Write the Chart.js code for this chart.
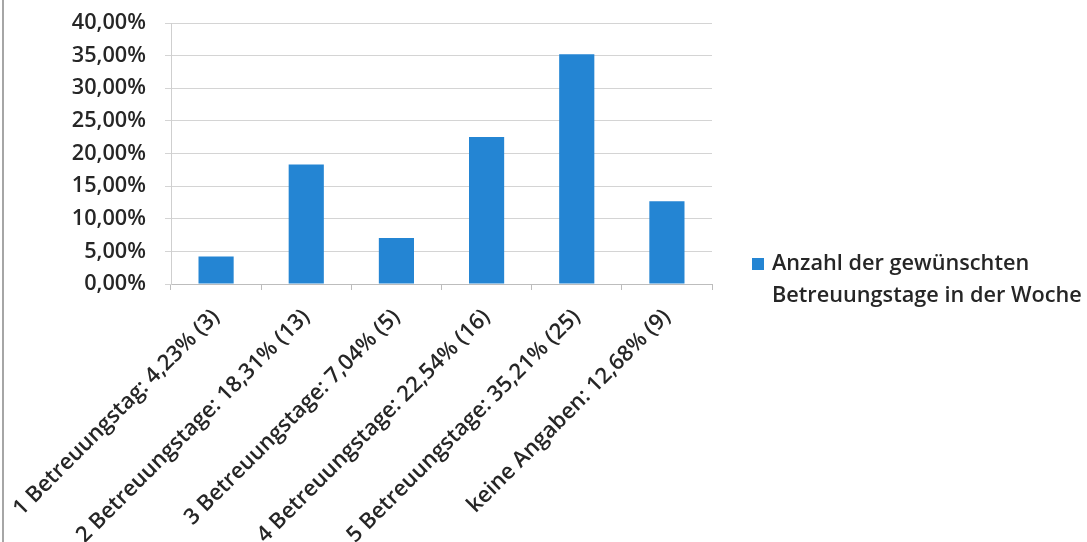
<!DOCTYPE html>
<html lang="de">
<head>
<meta charset="utf-8">
<title>Anzahl der gewünschten Betreuungstage in der Woche</title>
<script src="https://cdn.jsdelivr.net/npm/chart.js@4.4.1/dist/chart.umd.min.js"></script>
<style>
  html, body { margin: 0; padding: 0; background: #fff; }
  #wrap { position: relative; width: 1087px; height: 542px; overflow: hidden; }
  #edge { position: absolute; left: 2px; top: 0; width: 2px; height: 542px; background: #a6a6a6; }
  canvas { display: block; }
</style>
</head>
<body>
<div id="wrap">
  <canvas id="chart" width="1087" height="542"></canvas>
  <div id="edge"></div>
</div>
<script>
// Betreuungstage pro Woche: Anteil in Prozent
const categories = [
  '1 Betreuungstag: 4,23% (3)',
  '2 Betreuungstage: 18,31% (13)',
  '3 Betreuungstage: 7,04% (5)',
  '4 Betreuungstage: 22,54% (16)',
  '5 Betreuungstage: 35,21% (25)',
  'keine Angaben: 12,68% (9)'
];
const shares = [4.23, 18.31, 7.04, 22.54, 35.21, 12.68];
const seriesLabel = ['Anzahl der gewünschten', 'Betreuungstage in der Woche'];
const yTicks = [0, 5, 10, 15, 20, 25, 30, 35, 40];

const FONT = '"Open Sans", "DejaVu Sans", sans-serif';
const TEXT = '#262626';
const BLUE = '#2485d3';

const fmtPct = v => v.toFixed(2).replace('.', ',') + '%';

// Legend drawn at the right of the plot, two-line label
const sideLegend = {
  id: 'sideLegend',
  afterDraw(chart) {
    const ctx = chart.ctx;
    const ds = chart.data.datasets[0];
    const x = chart.chartArea.right + 40;
    const y = 264;
    ctx.save();
    ctx.fillStyle = ds.backgroundColor;
    ctx.fillRect(x, y - 6, 12, 12);
    ctx.fillStyle = TEXT;
    ctx.font = '600 21.7px ' + FONT;
    ctx.textBaseline = 'middle';
    ctx.textAlign = 'left';
    ds.labelLines.forEach((line, i) => ctx.fillText(line, x + 20, y + i * 32));
    ctx.restore();
  }
};

new Chart(document.getElementById('chart'), {
  type: 'bar',
  data: {
    labels: categories,
    datasets: [{
      label: seriesLabel.join(' '),
      labelLines: seriesLabel,
      data: shares,
      backgroundColor: BLUE,
      borderWidth: 0,
      categoryPercentage: 1,
      barPercentage: 0.39
    }]
  },
  options: {
    responsive: false,
    animation: false,
    layout: { padding: { left: 10, top: 23, right: 375, bottom: 0 } },
    plugins: {
      legend: { display: false },
      tooltip: { enabled: false }
    },
    scales: {
      x: {
        grid: {
          offset: true,
          drawOnChartArea: false,
          drawTicks: true,
          tickLength: 6,
          color: '#bdbdbd'
        },
        border: { color: '#bdbdbd', width: 1 },
        ticks: {
          minRotation: 45,
          maxRotation: 45,
          autoSkip: false,
          padding: 14,
          color: TEXT,
          font: { family: FONT, size: 22, weight: '600' }
        },
        afterFit(scale) {
          scale.height = 258;
          scale.paddingLeft = 0;
          scale.paddingRight = 0;
        }
      },
      y: {
        min: 0,
        max: 40,
        afterBuildTicks(scale) {
          scale.ticks = yTicks.map(v => ({ value: v }));
        },
        grid: {
          color: '#d4d4d4',
          drawTicks: true,
          tickLength: 6
        },
        border: { color: '#cfcfcf', width: 1 },
        ticks: {
          padding: 19,
          color: TEXT,
          font: { family: FONT, size: 21.7, weight: '600' },
          callback: v => fmtPct(v)
        },
        afterFit(scale) {
          scale.width = 161;
          scale.paddingTop = 0;
          scale.paddingBottom = 0;
        }
      }
    }
  },
  plugins: [sideLegend]
});
</script>
</body>
</html>
